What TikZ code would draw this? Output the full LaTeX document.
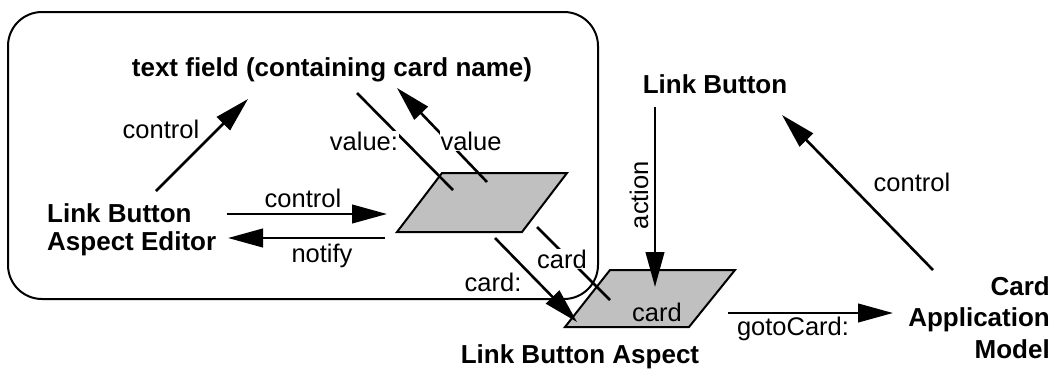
\documentclass[tikz,border=0pt]{standalone}
\usepackage{fontspec}
\setmainfont{Liberation Sans}
\usetikzlibrary{arrows.meta}
\definecolor{adgray}{RGB}{192,192,192}
\tikzset{
  ttl/.style={font=\bfseries\fontsize{26}{28}\selectfont, inner sep=0pt},
  lbl/.style={font=\fontsize{25.5}{29}\selectfont, inner sep=1pt},
  msg/.style={line width=2.6pt, -{Triangle[length=35pt,width=18.5pt]}},
  msgline/.style={line width=2.6pt},
  adaptor/.style={draw, line width=2pt, fill=adgray, line join=miter},
  frame/.style={draw, line width=2pt, rounded corners=34pt},
  gap/.style={fill=white}
}
\begin{document}
\begin{tikzpicture}[x=1pt,y=-1pt]
\useasboundingbox (0,0) rectangle (1055,370);
% frame
\draw[frame] (8,12) rectangle (598,299);
% adaptors
\coordinate (a1tl) at (442,173); \coordinate (a1tr) at (567,173);
\coordinate (a1br) at (522,232); \coordinate (a1bl) at (397,232);
\draw[adaptor] (a1tl) -- (a1tr) -- (a1br) -- (a1bl) -- cycle;
\coordinate (a2tl) at (610,270); \coordinate (a2tr) at (735,270);
\coordinate (a2br) at (689,327); \coordinate (a2bl) at (565,327);
\draw[adaptor] (a2tl) -- (a2tr) -- (a2br) -- (a2bl) -- cycle;
\node[lbl, inner sep=0pt, anchor=base] (a2txt) at (657,321) {card};
% titles
\node[ttl, anchor=base] (tf) at (332,76) {text field (containing card name)};
\node[ttl, anchor=base west, align=left, font=\bfseries\fontsize{26}{28}\selectfont] (lbae) at (47,250) {Link Button\\Aspect Editor};
\node[ttl, anchor=base] (lb) at (715,93) {Link Button};
\node[ttl, anchor=base] (lba) at (580,363) {Link Button Aspect};
\node[ttl, anchor=base east, align=right, font=\bfseries\fontsize{26}{31.5}\selectfont] (cam) at (1050,358) {Card\\Application\\Model};
% endpoints
\coordinate (c1s) at (156,191); \coordinate (c1e) at (248,99);
\coordinate (c2s) at (227,214); \coordinate (c2e) at (387,214);
\coordinate (n1s) at (385,238); \coordinate (n1e) at (228,238);
\coordinate (v1s) at (357,93);  \coordinate (v1e) at (453,190);
\coordinate (v2s) at (487,182); \coordinate (v2e) at (397,88);
\coordinate (k1s) at (495,238); \coordinate (k1e) at (577,322);
\coordinate (k2s) at (537,227); \coordinate (k2e) at (610,300);
\coordinate (acs) at (655,107); \coordinate (ace) at (655,287);
\coordinate (c3s) at (933,270); \coordinate (c3e) at (782,115);
\coordinate (gcs) at (728,313); \coordinate (gce) at (893,313);
% connectors
\draw[msg] (c1s) -- (c1e);
\draw[msg] (c2s) -- (c2e);
\draw[msg] (n1s) -- (n1e);
\draw[msgline] (v1s) -- (v1e);
\draw[msg] (v2s) -- (v2e);
\draw[msg] (k1s) -- (k1e);
\draw[msgline] (k2s) -- (k2e);
\draw[msg] (acs) -- (ace);
\draw[msg] (c3s) -- (c3e);
\draw[msg] (gcs) -- (gce);
% labels
\node[lbl, anchor=base] (lc1) at (161,138) {control};
\node[lbl, anchor=base] (lc2) at (303,207) {control};
\node[lbl, anchor=base] (ln1) at (322,262) {notify};
\node[lbl, gap, anchor=base] (lv1) at (364,150) {value:};
\node[lbl, gap, anchor=base] (lv2) at (471,150) {value};
\node[lbl, anchor=base] (lk1) at (493,291) {card:};
\node[lbl, gap, anchor=base] (lk2) at (562,268) {card};
\node[lbl, rotate=90, anchor=base] (lac) at (648,195) {action};
\node[lbl, anchor=base] (lc3) at (912,191) {control};
\node[lbl, anchor=base] (lgc) at (793,335) {gotoCard:};
\end{tikzpicture}
\end{document}
